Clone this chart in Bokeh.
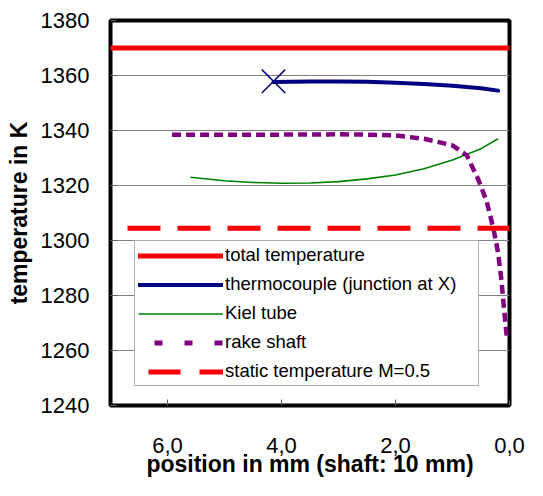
from bokeh.plotting import figure
from bokeh.models import Range1d, FixedTicker, Legend, LegendItem
from bokeh.embed import file_html
from bokeh.resources import INLINE

# ---- data ----
x_ticks = [6, 4, 2, 0]
x_tick_labels = ["6,0", "4,0", "2,0", "0,0"]
y_ticks = [1240, 1260, 1280, 1300, 1320, 1340, 1360, 1380]

total_x = [7.0, 0.0]
total_y = [1370.0, 1370.0]

static_x = [7.0, 0.0]
static_y = [1304.5, 1304.5]

thermo_x = [4.14, 3.5, 3.0, 2.5, 2.0, 1.5, 1.0, 0.5, 0.2]
thermo_y = [1357.6, 1357.8, 1357.8, 1357.7, 1357.4, 1356.9, 1356.3, 1355.4, 1354.5]
junction_x = [4.14]
junction_y = [1357.9]

kiel_x = [5.6, 5.0, 4.5, 4.0, 3.5, 3.0, 2.5, 2.0, 1.5, 1.0, 0.5, 0.2]
kiel_y = [1323.0, 1321.7, 1321.1, 1320.8, 1320.9, 1321.4, 1322.4, 1323.8, 1326.1, 1329.3, 1333.4, 1337.0]

rake_x = [5.92, 5.0, 4.0, 3.0, 2.5, 2.0, 1.5, 1.0, 0.75, 0.55, 0.4, 0.28, 0.2, 0.14, 0.1, 0.05]
rake_y = [1338.5, 1338.5, 1338.5, 1338.6, 1338.5, 1338.2, 1337.0, 1334.6, 1331.0, 1322.3, 1314.2, 1304.1, 1295.5, 1285.4, 1276.0, 1265.4]

NAN = float("nan")
key_x = [NAN]
key_y = [NAN]

FONT = "Liberation Sans"

p = figure(width=527, height=480, output_backend="svg", toolbar_location=None,
           x_range=Range1d(7, 0), y_range=Range1d(1240, 1380),
           min_border_left=110, min_border_right=18, min_border_top=20, min_border_bottom=75)

p.outline_line_color = "black"
p.outline_line_width = 4
p.background_fill_color = "white"
p.border_fill_color = "white"

p.xgrid.grid_line_color = None
p.ygrid.grid_line_color = "#808080"
p.ygrid.grid_line_width = 1.2

p.xaxis.ticker = FixedTicker(ticks=x_ticks)
p.xaxis.major_label_overrides = {t: l for t, l in zip(x_ticks, x_tick_labels)}
p.yaxis.ticker = FixedTicker(ticks=y_ticks)

for ax in (p.xaxis, p.yaxis):
    ax.axis_line_color = None
    ax.major_tick_in = 6
    ax.major_tick_out = 0
    ax.major_tick_line_color = "#606060"
    ax.minor_tick_line_color = None
    ax.major_label_text_font = FONT
    ax.major_label_text_font_size = "22px"
    ax.major_label_text_color = "black"
    ax.axis_label_text_font = FONT
    ax.axis_label_text_font_size = "23px"
    ax.axis_label_text_font_style = "bold"
    ax.axis_label_text_color = "black"

p.xaxis.axis_label = "position in mm (shaft: 10 mm)"
p.yaxis.axis_label = "temperature in K"
p.xaxis.major_label_standoff = 32
p.xaxis.axis_label_standoff = -5
p.yaxis.major_label_standoff = 21
p.yaxis.axis_label_standoff = 6

r_total = p.line(total_x, total_y, line_color="#FF0000", line_width=5, line_cap="round")
r_thermo = p.line(thermo_x, thermo_y, line_color="#000080", line_width=4, line_cap="round")
p.scatter(junction_x, junction_y, marker="x", size=33, line_color="#000080", line_width=1.5)
r_kiel = p.line(kiel_x, kiel_y, line_color="#008000", line_width=1.6)
p.line(rake_x, rake_y, line_color="#800080", line_width=4.5, line_dash="9 5")
p.line(static_x, static_y, line_color="#FF0000", line_width=5, line_dash="33 17", line_dash_offset=33)

# legend swatches (single NaN point: draws nothing in the plot)
r_rake_key = p.line(key_x, key_y, line_color="#800080", line_width=5, line_dash="8 22", line_dash_offset=-16)
r_static_key = p.line(key_x, key_y, line_color="#FF0000", line_width=5, line_dash="32 19", line_dash_offset=-10)

legend = Legend(items=[
    LegendItem(label="total temperature", renderers=[r_total]),
    LegendItem(label="thermocouple (junction at X)", renderers=[r_thermo]),
    LegendItem(label="Kiel tube", renderers=[r_kiel]),
    LegendItem(label="rake shaft", renderers=[r_rake_key]),
    LegendItem(label="static temperature M=0.5", renderers=[r_static_key]),
], location=(24, 19))
legend.label_text_font = FONT
legend.label_text_font_size = "18.5px"
legend.label_text_color = "black"
legend.glyph_width = 85
legend.glyph_height = 21
legend.label_height = 21
legend.label_width = 250
legend.label_standoff = 2
legend.spacing = 7
legend.padding = 3
legend.margin = 0
legend.border_line_color = "#606060"
legend.border_line_width = 1
legend.background_fill_color = "white"
legend.background_fill_alpha = 1.0
p.add_layout(legend, "center")

open("out.html", "w").write(file_html(p, INLINE))
